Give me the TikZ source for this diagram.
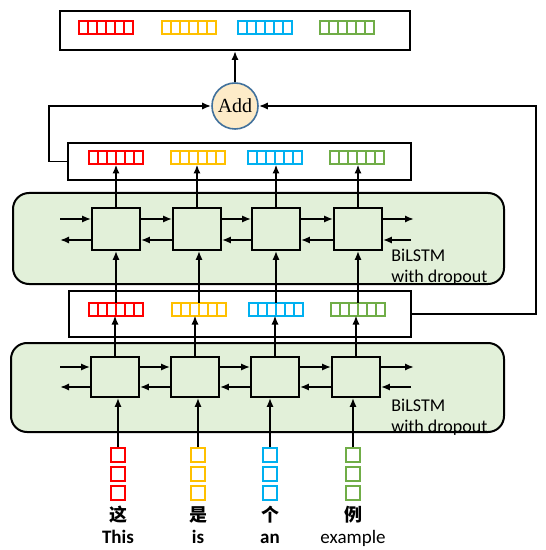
\documentclass[tikz,border=0pt]{standalone}
\usepackage{fontspec}
\setsansfont{Carlito}
\newfontfamily\cjk{Noto Sans CJK SC}
\newfontfamily\addfont{Liberation Serif}
\usetikzlibrary{arrows.meta}
\definecolor{vecRed}{HTML}{FF0000}
\definecolor{vecYellow}{HTML}{FFC000}
\definecolor{vecBlue}{HTML}{00B0F0}
\definecolor{vecGreen}{HTML}{70AD47}
\definecolor{lstmFill}{HTML}{E2F0D9}
\definecolor{addFill}{HTML}{FDEBC8}
\definecolor{addLine}{HTML}{41719C}

% one embedding vector: six little cells in a row
\newcommand{\embvec}[3]{%
  \node[vecbox, draw=#2] (#1) at #3 {};
  \foreach \k in {1,...,5}
    \draw[#2, line width=1pt] ([xshift=\k*4.5pt]#1.north west) -- ([xshift=\k*4.5pt]#1.south west);
}

\begin{document}
\begin{tikzpicture}[x=0.5pt, y=-0.5pt, >={Latex[length=4.5pt,width=3.6pt]},
  arr/.style={->, line width=0.9pt},
  box/.style={draw, line width=0.7pt, inner sep=0pt},
  region/.style={draw, fill=lstmFill, line width=1pt, rounded corners=8pt, inner sep=0pt},
  cell/.style={draw, fill=lstmFill, line width=0.9pt, minimum width=24pt, inner sep=0pt},
  vecbox/.style={line width=1pt, fill=white, minimum width=27pt, minimum height=6.5pt, inner sep=0pt, outer sep=0pt},
  tok/.style={line width=1pt, minimum size=7pt, inner sep=0pt},
  lbl/.style={font=\sffamily\fontsize{9}{10.5}\selectfont, align=left, inner sep=0pt}]
  \useasboundingbox (0,0) rectangle (545,550);

  % green BiLSTM layers
  \node[region, minimum width=245.5pt, minimum height=45.5pt] (upper) at (258.5,238.5) {};
  \node[region, minimum width=246.5pt, minimum height=44.5pt] (lower) at (257.5,387.5) {};
  \node[lbl, anchor=north west] (ulbl) at (391,249) {BiLSTM\\with dropout};
  \node[lbl, anchor=north west] (llbl) at (391,399) {BiLSTM\\with dropout};

  % LSTM cells
  \foreach \cx [count=\i] in {116,197,276,358}
    \node[cell, minimum height=21pt] (uc\i) at (\cx,229) {};
  \foreach \cx [count=\i] in {115,195,275,356}
    \node[cell, minimum height=20pt] (lc\i) at (\cx,377) {};

  % boxes holding the vectors
  \node[box, line width=1pt, minimum width=175pt, minimum height=19.5pt] (outbox) at (235,30.5) {};
  \node[box, minimum width=171.5pt, minimum height=18.5pt] (hbox) at (239.5,161.5) {};
  \node[box, minimum width=171pt, minimum height=23pt] (ebox) at (240,314) {};
  \foreach \cx/\col [count=\i] in {106/vecRed,189/vecYellow,265/vecBlue,347/vecGreen}
    \embvec{ov\i}{\col}{(\cx,28)};
  \foreach \cx/\col [count=\i] in {116/vecRed,198/vecYellow,275/vecBlue,357/vecGreen}
    \embvec{hv\i}{\col}{(\cx,158)};
  \foreach \cx/\col [count=\i] in {116/vecRed,199/vecYellow,276/vecBlue,358/vecGreen}
    \embvec{ev\i}{\col}{(\cx,309)};

  % Add node
  \node[circle, draw=addLine, fill=addFill, line width=0.8pt, minimum size=23pt, inner sep=0pt,
        font=\addfont\fontsize{10}{11}\selectfont] (add) at (235,106) {Add};
  \draw[arr] (add.north) -- (add.north |- outbox.south);
  \draw[arr] (hbox.west) -- ++(-9pt,0) |- (add.west);
  \draw[arr] (ebox.east) -- ++(62pt,0) |- (add.east);

  % recurrent connections, forward above, backward below
  \foreach \l/\fy/\by in {uc/219/240, lc/367/387} {
    \coordinate (\l fin) at (60,\fy);
    \coordinate (\l bout) at (60,\by);
    \coordinate (\l fout) at (414,\fy);
    \coordinate (\l bin) at (411,\by);
    \draw[arr] (\l fin) -- (\l fin -| \l1.west);
    \draw[arr] (\l bout -| \l1.west) -- (\l bout);
    \draw[arr] (\l fout -| \l4.east) -- (\l fout);
    \draw[arr] (\l bin) -- (\l bin -| \l4.east);
    \foreach \i/\j in {1/2,2/3,3/4} {
      \draw[arr] (\l fin -| \l\i.east) -- (\l fin -| \l\j.west);
      \draw[arr] (\l bout -| \l\j.west) -- (\l bout -| \l\i.east);
    }
  }

  % vertical flow between layers
  \foreach \i in {1,...,4} {
    \draw[arr] (uc\i.north) -- (uc\i.north |- hv\i.south);
    \draw[arr] (ev\i.north) -- (ev\i.north |- uc\i.south);
    \draw[arr] (lc\i.north) -- (lc\i.north |- ev\i.south);
  }

  % input tokens
  \foreach \cx/\col/\zh/\en [count=\i] in {118/vecRed/这/\textbf{This}, 198/vecYellow/是/\textbf{is},
      270/vecBlue/个/\textbf{an}, 353/vecGreen/例/example} {
    \foreach \sy [count=\r] in {455,474,493}
      \node[tok, draw=\col] (tk\i-\r) at (\cx,\sy) {};
    \node[font=\cjk\bfseries\fontsize{9}{10}\selectfont, inner sep=0pt] (zh\i) at (\cx,515) {\zh};
    \node[font=\sffamily\fontsize{9.5}{11}\selectfont, anchor=base, inner sep=0pt] (en\i) at (\cx,543) {\en};
    \draw[arr] (tk\i-1.north) -- (tk\i-1.north |- lc\i.south);
  }
\end{tikzpicture}
\end{document}
